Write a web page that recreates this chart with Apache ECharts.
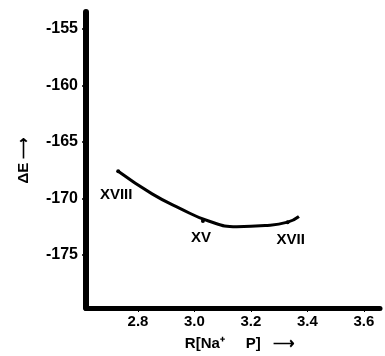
<!DOCTYPE html>
<html>
<head>
<meta charset="utf-8">
<script src="https://cdn.jsdelivr.net/npm/echarts@6/dist/echarts.min.js"></script>
<style>
html,body{margin:0;padding:0;background:#fff;}
#main{width:385px;height:356px;}
</style>
</head>
<body>
<div id="main"></div>
<script>
// curve
var curveX=[2.73,2.85,2.95,3.05,3.15,3.25,3.33,3.37];
var curveY=[-167.6,-169.6,-170.9,-172.0,-172.5,-172.4,-172.1,-171.6];
// labelled compounds
var pointNames=['XVIII','XV','XVII'];
var pointX=[2.73,3.03,3.33];
var pointY=[-167.6,-172.0,-172.1];
var xTicks=[2.8,3.0,3.2,3.4,3.6];
var yTicks=[-175,-170,-165,-160,-155];

var chart=echarts.init(document.getElementById('main'));
var font='Liberation Sans';
var offsets=[[-2,24],[-2,17],[3,18]];

var option={
    animation:false,
    grid:{left:86,right:5,top:12,bottom:44},
    xAxis:{
        type:'value',
        min:2.616,max:3.657,
        name:'R[Na⁺     P]   ⟶',
        nameLocation:'middle',
        nameGap:28,
        nameTextStyle:{color:'#000',fontFamily:font,fontWeight:'bold',fontSize:15,padding:[0,0,0,14]},
        splitLine:{show:false},
        axisLine:{lineStyle:{color:'#000',width:5}},
        axisTick:{customValues:xTicks,length:4,lineStyle:{color:'#000',width:1}},
        axisLabel:{
            customValues:xTicks,
            color:'#000',fontFamily:font,fontWeight:'bold',fontSize:15,margin:6,
            formatter:function(v){return v.toFixed(1);}
        }
    },
    yAxis:{
        type:'value',
        min:-179.7,max:-153.5,
        name:'ΔE ⟶',
        nameLocation:'middle',
        nameRotate:90,
        nameGap:55,
        nameTextStyle:{color:'#000',fontFamily:font,fontWeight:'bold',fontSize:15},
        splitLine:{show:false},
        axisLine:{lineStyle:{color:'#000',width:6}},
        axisTick:{customValues:yTicks,length:4,lineStyle:{color:'#000',width:1.5}},
        axisLabel:{
            customValues:yTicks,
            color:'#000',fontFamily:font,fontWeight:'bold',fontSize:16,margin:8
        }
    },
    series:[{
        type:'line',
        smooth:true,
        showSymbol:false,
        data:curveX.map(function(x,i){return [x,curveY[i]];}),
        lineStyle:{color:'#000',width:3}
    },{
        type:'scatter',
        symbolSize:4,
        itemStyle:{color:'#000',opacity:1},
        data:pointX.map(function(x,i){
            return {
                value:[x,pointY[i]],
                label:{show:true,formatter:pointNames[i],offset:offsets[i]}
            };
        }),
        label:{color:'#000',textBorderWidth:0,fontFamily:font,fontWeight:'bold',fontSize:15,position:'inside'}
    }]
};
chart.setOption(option);
</script>
</body>
</html>
